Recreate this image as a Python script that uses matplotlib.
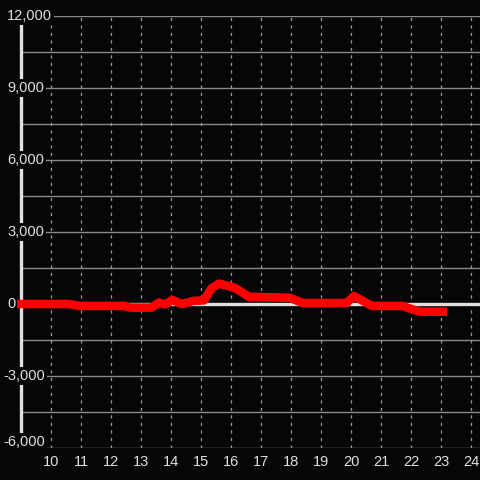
import matplotlib
matplotlib.use("Agg")
import matplotlib.pyplot as plt

# data
x_vals = [8.87, 10.6, 10.95, 12.45, 12.65, 13.35, 13.6, 13.8, 14.05, 14.35, 14.75, 15.1,
          15.35, 15.6, 16.0, 16.15, 16.6, 17.95, 18.4, 19.85, 20.1, 20.7, 21.7, 22.3, 23.2]
y_vals = [0, 0, -80, -80, -150, -150, 60, -20, 170, 0, 130, 150,
          650, 850, 720, 660, 300, 260, 40, 40, 330, -80, -80, -320, -320]
x_ticks = list(range(10, 25))
y_ticks = [-6000, -3000, 0, 3000, 6000, 9000, 12000]
y_labels = ["-6,000", "-3,000", "0", "3,000", "6,000", "9,000", "12,000"]
y_minor = [-4500, -1500, 1500, 4500, 7500, 10500]

bg = "#060608"
txt = "#e0e0e0"
W, H = 480, 480
fig = plt.figure(figsize=(4.8, 4.8), dpi=100, facecolor=bg)
ax = fig.add_axes([21 / W, (H - 448) / H, 459 / W, 432 / H], facecolor=bg)
ax.set_xlim(9, 24.3)
ax.set_ylim(-6000, 12000)

for s in ["top", "right", "bottom"]:
    ax.spines[s].set_visible(False)
ax.spines["left"].set_color(txt)
ax.spines["left"].set_linewidth(2.4)
ax.spines["left"].set_zorder(3)

ax.set_xticks([])
ax.set_yticks([])

for yv in y_ticks + y_minor:
    ax.axhline(yv, color="#8a8a8a", lw=1.0, zorder=1)
for xv in x_ticks:
    ax.axvline(xv, color="#9a9a9a", lw=0.9, ls=(0, (2.5, 3.5)), zorder=1)
ax.axhline(0, color=txt, lw=2.4, zorder=2)

ax.plot(x_vals, y_vals, color="#ff0000", lw=6.2, solid_joinstyle="round",
        solid_capstyle="butt", zorder=4, clip_on=False)

# y labels
for yv, lab in zip(y_ticks, y_labels):
    ypx = 304 - yv * 72 / 3000
    if yv == y_ticks[0]:
        ypx -= 6
    xpx = 3 if lab.startswith("-") else 7
    fig.text(xpx / W, 1 - ypx / H, lab, color=txt, fontsize=10.5,
             family="Liberation Sans", ha="left", va="center", zorder=10,
             bbox=dict(facecolor=bg, edgecolor="none", pad=1.5))

# x labels
for xv in x_ticks:
    fig.text((21 + (xv - 9) * 30) / W, 1 - 462 / H, str(xv), color=txt,
             fontsize=10.5, family="Liberation Sans", ha="center", va="center")

fig.savefig("out.png", dpi=100, facecolor=bg)
